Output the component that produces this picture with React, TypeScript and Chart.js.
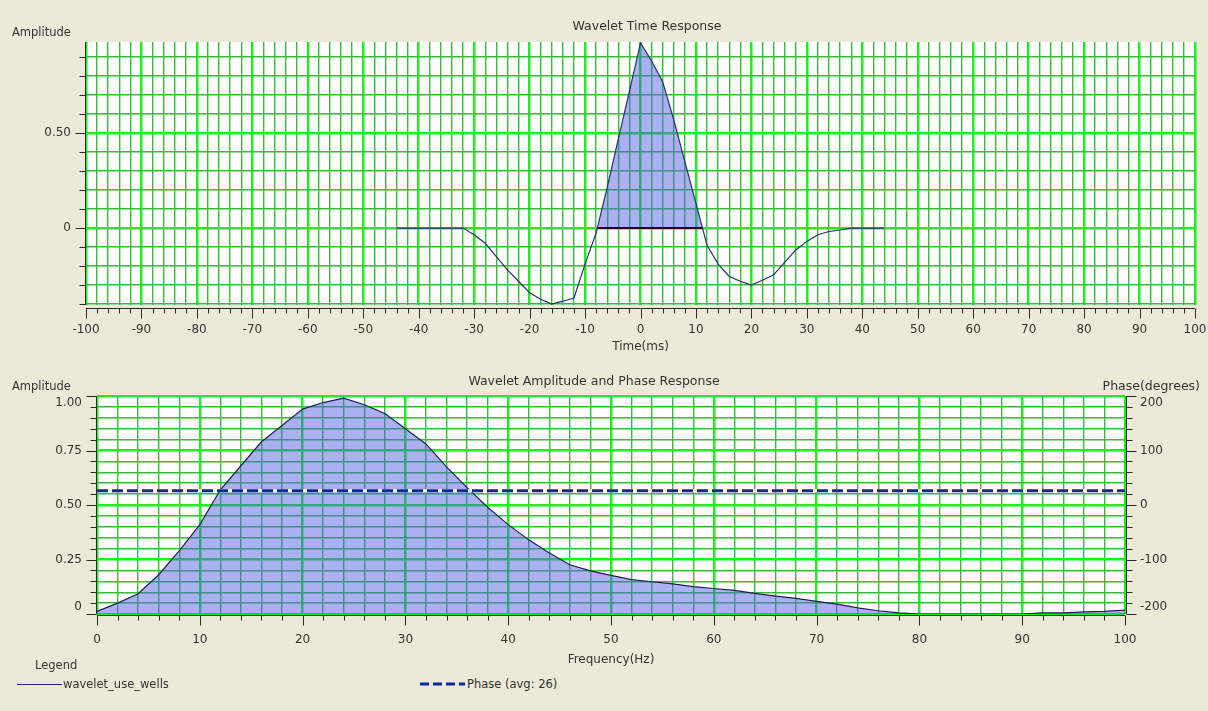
import React, { useEffect, useRef } from 'react';
import { Chart, registerables } from 'chart.js';
Chart.register(...registerables);

// ---------------- Data: Wavelet Time Response ----------------
const timeMs = [-44, -42, -40, -38, -36, -34, -32, -30, -28, -26, -24, -22, -20, -18, -16, -14, -12, -10, -8, -6, -4, -2, 0, 2, 4, 6, 8, 10, 12, 14, 16, 18, 20, 22, 24, 26, 28, 30, 32, 34, 36, 38, 40, 42, 44];
const timeAmplitude = [0, 0, 0, 0, 0, 0, 0, -0.035, -0.08, -0.15, -0.22, -0.28, -0.34, -0.375, -0.4, -0.385, -0.368, -0.19, -0.025, 0.215, 0.47, 0.72, 0.975, 0.88, 0.77, 0.57, 0.35, 0.13, -0.09, -0.19, -0.255, -0.28, -0.3, -0.275, -0.246, -0.18, -0.115, -0.07, -0.035, -0.018, -0.01, 0, 0, 0, 0];

// ---------------- Data: Wavelet Amplitude and Phase Response ----------------
const freqHz = [0, 2, 4, 6, 8, 10, 12, 14, 16, 18, 20, 22, 24, 26, 28, 30, 32, 34, 36, 38, 40, 42, 44, 46, 48, 50, 52, 54, 56, 58, 60, 62, 64, 66, 68, 70, 72, 74, 76, 78, 80, 82, 84, 86, 88, 90, 92, 94, 96, 98, 100];
const freqAmplitude = [0.012, 0.05, 0.093, 0.18, 0.29, 0.41, 0.57, 0.68, 0.79, 0.865, 0.94, 0.97, 0.99, 0.96, 0.92, 0.85, 0.78, 0.675, 0.58, 0.49, 0.41, 0.34, 0.28, 0.226, 0.198, 0.177, 0.158, 0.148, 0.138, 0.126, 0.117, 0.108, 0.095, 0.082, 0.072, 0.058, 0.045, 0.028, 0.015, 0.005, 0, 0, 0, 0, 0, 0, 0.005, 0.005, 0.01, 0.012, 0.018];
const phaseAvg = 26;
const phaseFreq = [0, 100];
const phaseDeg = [phaseAvg, phaseAvg];

const seriesName = 'wavelet_use_wells';
const phaseName = `Phase (avg: ${phaseAvg})`;

// ---------------- Axis ticks ----------------
const timeMajorTicks = [-100, -90, -80, -70, -60, -50, -40, -30, -20, -10, 0, 10, 20, 30, 40, 50, 60, 70, 80, 90, 100];
const topAmpTickValues = [0, 0.5];
const topAmpTickLabels = ['0', '0.50'];
const freqMajorTicks = [0, 10, 20, 30, 40, 50, 60, 70, 80, 90, 100];
const ampTickValues = [0, 0.25, 0.5, 0.75, 1];
const ampTickLabels = ['0', '0.25', '0.50', '0.75', '1.00'];
const phaseTickValues = [-200, -100, 0, 100, 200];
const phaseTickLabels = ['-200', '-100', '0', '100', '200'];

// ---------------- Styles ----------------
const FONT = "'DejaVu Sans', sans-serif";
const TEXT = '#333333';
const AXIS = '#2a2a2a';
const BG = '#ece9d8';
const FILL = 'rgba(81,94,224,0.49)';
const MAJOR = '#1eef1e';
const MINOR = '#36bc36';

function range(a: number, b: number, step: number) {
  const out: number[] = [];
  const n = Math.round((b - a) / step);
  for (let i = 0; i <= n; i++) out.push(+(a + i * step).toFixed(6));
  return out;
}
const near = (a: number, b: number) => Math.abs(a - b) < 1e-6;
const inList = (v: number, list: number[]) => list.some((x) => near(x, v));

function gridFor(isMajor: (v: number) => boolean) {
  return {
    drawTicks: false,
    color: (c: any) => (c.tick && isMajor(c.tick.value) ? MAJOR : MINOR),
    lineWidth: (c: any) => (c.tick && isMajor(c.tick.value) ? 2.5 : 1.4),
  };
}

function zeroBaseline(xs: number[], ys: number[]) {
  // segments of y = 0 beneath each positive lobe (from zero crossings of the data)
  const pts: any[] = [];
  let start: number | null = null;
  for (let i = 1; i < xs.length; i++) {
    const y0 = ys[i - 1], y1 = ys[i];
    if (y0 <= 0 && y1 > 0) {
      start = xs[i - 1] + ((xs[i] - xs[i - 1]) * (0 - y0)) / (y1 - y0);
    } else if (y0 > 0 && y1 <= 0 && start !== null) {
      const end = xs[i - 1] + ((xs[i] - xs[i - 1]) * (0 - y0)) / (y1 - y0);
      if (pts.length) pts.push({ x: start, y: null });
      pts.push({ x: start, y: 0 }, { x: end, y: 0 });
      start = null;
    }
  }
  return pts;
}

type AxisSpec = { id: string; side: 'bottom' | 'left' | 'right'; values: number[]; isMajor: (v: number) => boolean; off: number };
type DecorCfg = { title: string; titleX: number; titleDy: number; leftLabel: string; rightLabel?: string; axes: AxisSpec[] };

function makeDecor(cfg: DecorCfg) {
  return {
    id: 'decor',
    beforeDraw(chart: any) {
      const { ctx, chartArea: a } = chart;
      ctx.save();
      ctx.fillStyle = '#ffffff';
      ctx.fillRect(a.left, a.top, a.right - a.left, a.bottom - a.top);
      ctx.restore();
    },
    afterDraw(chart: any) {
      const { ctx, chartArea: a } = chart;
      ctx.save();
      ctx.strokeStyle = AXIS;
      ctx.lineWidth = 1;
      for (const ax of cfg.axes) {
        const s = chart.scales[ax.id];
        ctx.beginPath();
        if (ax.side === 'bottom') {
          const y0 = Math.round(a.bottom + ax.off) + 0.5;
          ctx.moveTo(a.left, y0);
          ctx.lineTo(a.right, y0);
          for (const v of ax.values) {
            const x = Math.round(s.getPixelForValue(v)) + 0.5;
            const len = ax.isMajor(v) ? 10 : 5;
            ctx.moveTo(x, y0);
            ctx.lineTo(x, y0 + len);
          }
        } else if (ax.side === 'left') {
          const x0 = Math.round(a.left + ax.off) - 0.5;
          ctx.moveTo(x0, a.top);
          ctx.lineTo(x0, a.bottom);
          for (const v of ax.values) {
            const y = Math.round(s.getPixelForValue(v)) + 0.5;
            const len = ax.isMajor(v) ? 10 : 6;
            ctx.moveTo(x0, y);
            ctx.lineTo(x0 - len, y);
          }
        } else {
          const x0 = Math.round(a.right + ax.off) + 0.5;
          ctx.moveTo(x0, a.top);
          ctx.lineTo(x0, a.bottom);
          for (const v of ax.values) {
            const y = Math.round(s.getPixelForValue(v)) + 0.5;
            const len = ax.isMajor(v) ? 10 : 6;
            ctx.moveTo(x0, y);
            ctx.lineTo(x0 + len, y);
          }
        }
        ctx.stroke();
      }
      ctx.fillStyle = TEXT;
      ctx.textBaseline = 'middle';
      ctx.textAlign = 'center';
      ctx.font = `12.5px ${FONT}`;
      ctx.fillText(cfg.title, cfg.titleX, a.top - cfg.titleDy);
      ctx.font = `11.5px ${FONT}`;
      ctx.textAlign = 'left';
      ctx.fillText(cfg.leftLabel, 12, a.top - 9);
      if (cfg.rightLabel) {
        ctx.font = `12.5px ${FONT}`;
        ctx.textAlign = 'right';
        ctx.fillText(cfg.rightLabel, 1200, a.top - 9);
      }
      ctx.restore();
    },
  };
}

const tickFont = { family: FONT, size: 12 };
const titleFont = { family: FONT, size: 12 };

function TimeChart() {
  const ref = useRef<HTMLCanvasElement>(null);
  useEffect(() => {
    const xVals = range(-100, 100, 2);
    const yVals = range(-0.4, 0.9, 0.1);
    const isMajX = (v: number) => inList(v, timeMajorTicks);
    const isMajY = (v: number) => inList(v, topAmpTickValues);
    const chart = new Chart(ref.current as HTMLCanvasElement, {
      type: 'line',
      data: {
        datasets: [
          {
            label: 'baseline',
            data: zeroBaseline(timeMs, timeAmplitude),
            borderColor: '#111111',
            borderWidth: 2,
            pointRadius: 0,
            fill: false,
          } as any,
          {
            label: seriesName,
            data: timeMs.map((t, i) => ({ x: t, y: timeAmplitude[i] })),
            borderColor: '#22306e',
            borderWidth: 1.2,
            pointRadius: 0,
            tension: 0,
            fill: { target: 'origin', above: FILL, below: 'rgba(0,0,0,0)' },
          } as any,
        ],
      },
      options: {
        animation: false,
        responsive: false,
        maintainAspectRatio: false,
        layout: { padding: { top: 42, right: 13, left: 0, bottom: 0 } },
        plugins: { legend: { display: false }, tooltip: { enabled: false }, title: { display: false } },
        scales: {
          x: {
            type: 'linear',
            min: -100,
            max: 100,
            afterBuildTicks: (s: any) => { s.ticks = xVals.map((v) => ({ value: v })); },
            afterFit: (s: any) => { s.height = 50; s.paddingLeft = 0; s.paddingRight = 0; },
            grid: gridFor(isMajX) as any,
            border: { display: false },
            ticks: {
              autoSkip: false, maxRotation: 0, minRotation: 0, padding: 18,
              font: tickFont, color: TEXT,
              callback: (v: any) => (isMajX(+v) ? String(Math.round(+v)) : ''),
            },
            title: { display: true, text: 'Time(ms)', font: titleFont, color: TEXT, padding: { top: 0, bottom: 1 } },
          },
          y: {
            type: 'linear',
            min: -0.405,
            max: 0.98,
            afterBuildTicks: (s: any) => { s.ticks = yVals.map((v) => ({ value: v })); },
            afterFit: (s: any) => { s.width = 86; },
            grid: gridFor(isMajY) as any,
            border: { display: false },
            ticks: {
              autoSkip: false, padding: 15, font: tickFont, color: TEXT,
              callback: (v: any) => {
                const i = topAmpTickValues.findIndex((x) => near(x, +v));
                return i >= 0 ? topAmpTickLabels[i] : '';
              },
            },
          },
        },
      } as any,
      plugins: [
        makeDecor({
          title: 'Wavelet Time Response', titleX: 647, titleDy: 15, leftLabel: 'Amplitude',
          axes: [
            { id: 'x', side: 'bottom', values: xVals, isMajor: isMajX, off: 3 },
            { id: 'y', side: 'left', values: yVals, isMajor: isMajY, off: 0 },
          ],
        }),
      ],
    });
    return () => chart.destroy();
  }, []);
  return <canvas ref={ref} width={1208} height={355} style={{ position: 'absolute', left: 0, top: 0, display: 'block' }} />;
}

function FreqChart() {
  const ref = useRef<HTMLCanvasElement>(null);
  useEffect(() => {
    const xVals = range(0, 100, 2);
    const yVals = range(0, 1, 0.05);
    const pVals = range(-200, 200, 20);
    const isMajX = (v: number) => inList(v, freqMajorTicks);
    const isMajY = (v: number) => inList(v, ampTickValues);
    const isMajP = (v: number) => inList(v, phaseTickValues);
    const chart = new Chart(ref.current as HTMLCanvasElement, {
      type: 'line',
      data: {
        datasets: [
          {
            label: phaseName,
            data: phaseFreq.map((f, i) => ({ x: f, y: phaseDeg[i] })),
            yAxisID: 'y2',
            borderColor: '#0a2a96',
            borderWidth: 3,
            borderDash: [11, 4],
            pointRadius: 0,
            fill: false,
          } as any,
          {
            label: 'phase-underlay',
            data: phaseFreq.map((f, i) => ({ x: f, y: phaseDeg[i] })),
            yAxisID: 'y2',
            borderColor: '#ffffff',
            borderWidth: 3,
            pointRadius: 0,
            fill: false,
          } as any,
          {
            label: seriesName,
            data: freqHz.map((f, i) => ({ x: f, y: freqAmplitude[i] })),
            yAxisID: 'y',
            borderColor: '#1c2250',
            borderWidth: 1.2,
            pointRadius: 0,
            tension: 0,
            fill: { target: 'origin', above: FILL, below: 'rgba(0,0,0,0)' },
          } as any,
        ],
      },
      options: {
        animation: false,
        responsive: false,
        maintainAspectRatio: false,
        layout: { padding: { top: 41, right: 0, left: 0, bottom: 0 } },
        plugins: { legend: { display: false }, tooltip: { enabled: false }, title: { display: false } },
        scales: {
          x: {
            type: 'linear',
            min: 0,
            max: 100,
            afterBuildTicks: (s: any) => { s.ticks = xVals.map((v) => ({ value: v })); },
            afterFit: (s: any) => { s.height = 56; s.paddingLeft = 0; s.paddingRight = 0; },
            grid: gridFor(isMajX) as any,
            border: { display: false },
            ticks: {
              autoSkip: false, maxRotation: 0, minRotation: 0, padding: 19,
              font: tickFont, color: TEXT,
              callback: (v: any) => (isMajX(+v) ? String(Math.round(+v)) : ''),
            },
            title: { display: true, text: 'Frequency(Hz)', font: titleFont, color: TEXT, padding: { top: 0, bottom: 3 } },
          },
          y: {
            type: 'linear',
            position: 'left',
            min: 0,
            max: 1,
            afterBuildTicks: (s: any) => { s.ticks = yVals.map((v) => ({ value: v })); },
            afterFit: (s: any) => { s.width = 97; },
            grid: gridFor(isMajY) as any,
            border: { display: false },
            ticks: {
              autoSkip: false, padding: 15, font: tickFont, color: TEXT,
              callback: (v: any) => {
                const i = ampTickValues.findIndex((x) => near(x, +v));
                if (i < 0) return '';
                if (i === ampTickValues.length - 1) return ['', ampTickLabels[i]];
                if (i === 0) return [ampTickLabels[i], ''];
                return ampTickLabels[i];
              },
            },
          },
          y2: {
            type: 'linear',
            position: 'right',
            min: -200,
            max: 200,
            afterBuildTicks: (s: any) => { s.ticks = pVals.map((v) => ({ value: v })); },
            afterFit: (s: any) => { s.width = 83; },
            grid: { display: false, drawTicks: false },
            border: { display: false },
            ticks: {
              autoSkip: false, padding: 15, font: tickFont, color: TEXT,
              callback: (v: any) => {
                const i = phaseTickValues.findIndex((x) => near(x, +v));
                if (i < 0) return '';
                if (i === phaseTickValues.length - 1) return ['', phaseTickLabels[i]];
                if (i === 0) return [phaseTickLabels[i], ''];
                return phaseTickLabels[i];
              },
            },
          },
        },
      } as any,
      plugins: [
        makeDecor({
          title: 'Wavelet Amplitude and Phase Response', titleX: 594, titleDy: 14,
          leftLabel: 'Amplitude', rightLabel: 'Phase(degrees)',
          axes: [
            { id: 'x', side: 'bottom', values: xVals, isMajor: isMajX, off: 1 },
            { id: 'y', side: 'left', values: yVals, isMajor: isMajY, off: 0 },
            { id: 'y2', side: 'right', values: pVals, isMajor: isMajP, off: 1 },
          ],
        }),
      ],
    });
    return () => chart.destroy();
  }, []);
  return <canvas ref={ref} width={1208} height={315} style={{ position: 'absolute', left: 0, top: 355, display: 'block' }} />;
}

export default function App() {
  const txt: React.CSSProperties = { position: 'absolute', font: `11.5px ${FONT}`, color: TEXT, lineHeight: '16px', whiteSpace: 'nowrap' };
  return (
    <div style={{ position: 'fixed', left: 0, top: 0, width: 1208, height: 711, background: BG, overflow: 'hidden' }}>
      <TimeChart />
      <FreqChart />
      <div style={{ ...txt, left: 35, top: 657 }}>Legend</div>
      <svg style={{ position: 'absolute', left: 0, top: 676 }} width={600} height={16}>
        <line x1={17} x2={62} y1={8.5} y2={8.5} stroke="#1c2a8c" strokeWidth={1} />
        <line x1={420} x2={465} y1={8} y2={8} stroke="#0a2a96" strokeWidth={3} strokeDasharray="9 4" />
      </svg>
      <div style={{ ...txt, left: 63, top: 676 }}>{seriesName}</div>
      <div style={{ ...txt, left: 467, top: 676 }}>{phaseName}</div>
    </div>
  );
}
